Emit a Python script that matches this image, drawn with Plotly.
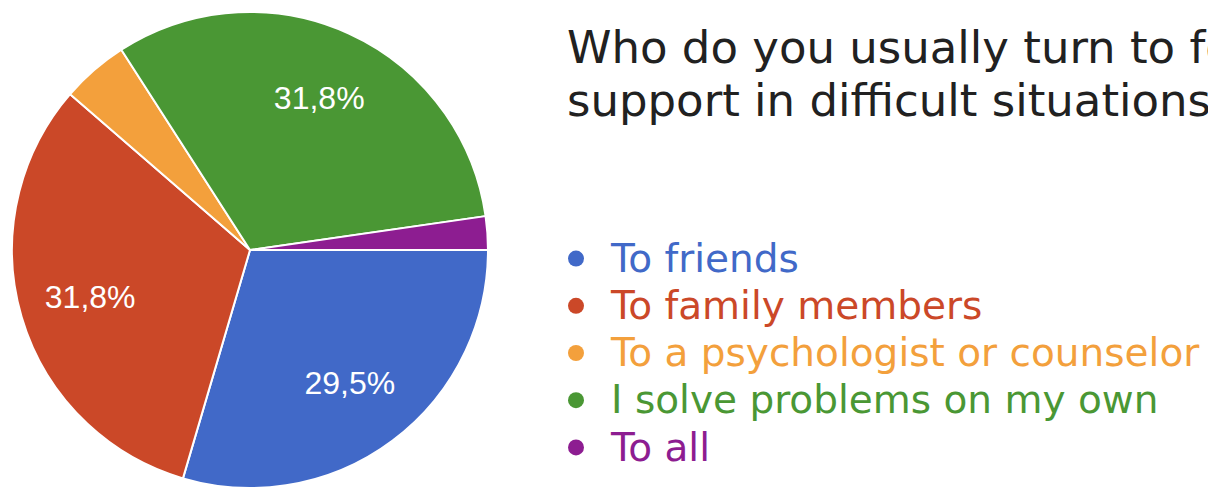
import plotly.graph_objects as go

# ---- data ----
categories = ["To friends", "To family members", "To a psychologist or counselor",
              "I solve problems on my own", "To all"]
counts = [13, 14, 2, 14, 1]
colors = ["#4169C8", "#CB4828", "#F3A03C", "#4A9734", "#8D1D91"]
title_lines = ["Who do you usually turn to for", "support in difficult situations?"]

W, H = 1208, 488
total = sum(counts)
labels_txt = [(f"{c / total * 100:.1f}%".replace(".", ",") if c / total >= 0.1 else "")
              for c in counts]
pie_domain = dict(x=[12 / W, 488 / W], y=[0, 476 / H])

fig = go.Figure()
# the pie itself
fig.add_trace(go.Pie(
    labels=categories, values=counts, sort=False, direction="clockwise", rotation=90,
    marker=dict(colors=colors, line=dict(color="white", width=2)),
    textinfo="none", domain=pie_domain, showlegend=False, hoverinfo="label+percent",
))
# transparent ring carrying the percentage labels (places them further out)
fig.add_trace(go.Pie(
    labels=categories, values=counts, sort=False, direction="clockwise", rotation=90,
    hole=0.4,
    marker=dict(colors=["rgba(0,0,0,0)"] * len(counts), line=dict(width=0)),
    text=labels_txt, textinfo="text", textposition="inside",
    insidetextorientation="horizontal",
    textfont=dict(family="Liberation Sans, Arial", size=32, color="white"),
    domain=pie_domain, showlegend=False, hoverinfo="skip",
))

for cat, col in zip(categories, colors):
    fig.add_trace(go.Scatter(
        x=[None], y=[None], mode="markers",
        marker=dict(symbol="circle", size=16, color=col),
        name=f'<span style="color:{col};font-size:39px">{cat}</span>',
        showlegend=True,
    ))

for i, line in enumerate(title_lines):
    fig.add_annotation(
        text=line, xref="paper", yref="paper", x=565 / W, y=1 - (47 + 53 * i) / H,
        xanchor="left", yanchor="middle", showarrow=False,
        font=dict(family="DejaVu Sans", size=45, color="#212121"),
    )

fig.update_layout(
    width=W, height=H, margin=dict(l=0, r=0, t=0, b=0),
    paper_bgcolor="white", plot_bgcolor="white",
    xaxis=dict(visible=False), yaxis=dict(visible=False),
    legend=dict(x=541 / W, y=1 - 230 / H, xanchor="left", yanchor="top",
                font=dict(family="DejaVu Sans", size=34), itemwidth=60,
                bgcolor="rgba(0,0,0,0)", itemclick=False, itemdoubleclick=False),
)

fig.write_html("out.html")
